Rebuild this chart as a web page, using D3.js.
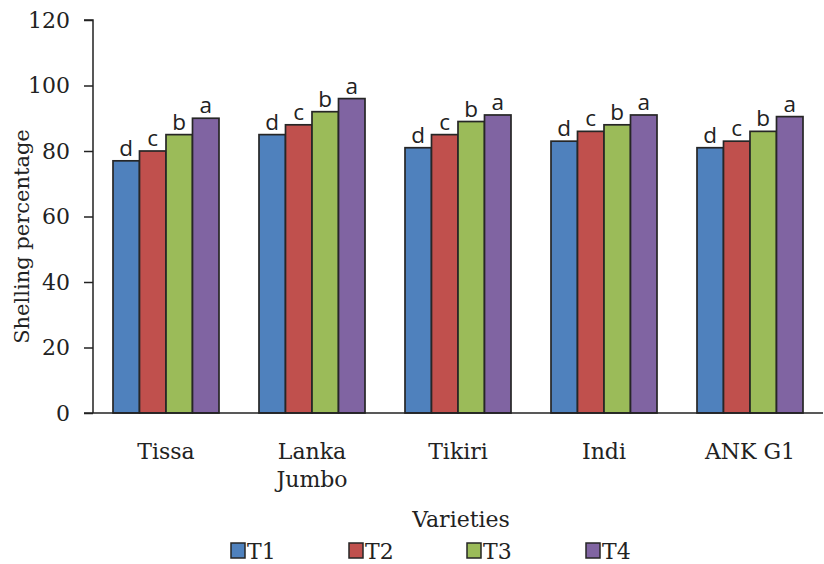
<!DOCTYPE html>
<html><head><meta charset="utf-8">
<script src="https://cdn.jsdelivr.net/npm/d3@7"></script>
<style>body{margin:0;background:#fff}</style>
</head><body>
<svg id="c" width="824" height="564"></svg>
<script>
const categories = [["Tissa"], ["Lanka", "Jumbo"], ["Tikiri"], ["Indi"], ["ANK G1"]];
const series = ["T1", "T2", "T3", "T4"];
const T1 = [77, 85, 81, 83, 81];
const T2 = [80, 88, 85, 86, 83];
const T3 = [85, 92, 89, 88, 86];
const T4 = [90, 96, 91, 91, 90.5];
const letters = ["d", "c", "b", "a"];
const yTicks = [0, 20, 40, 60, 80, 100, 120];
const colors = ["#4F81BD", "#C0504D", "#9BBB59", "#8064A2"];
const values = [T1, T2, T3, T4];

const svg = d3.select("#c");
const L = 93, R = 823, T = 20, B = 413;
const serif = "'DejaVu Serif', 'Liberation Serif', serif";
const sans = "'Open Sans', 'Liberation Sans', sans-serif";

const x0 = d3.scaleBand().domain(d3.range(categories.length)).range([L, R]).paddingInner(40/146).paddingOuter(20/146);
const x1 = d3.scaleBand().domain(series).range([0, x0.bandwidth()]);
const y = d3.scaleLinear().domain([0, 120]).range([B, T]);

// bars
categories.forEach((c, i) => {
  series.forEach((s, j) => {
    const v = values[j][i];
    svg.append("rect")
      .attr("x", x0(i) + x1(s)).attr("y", y(v))
      .attr("width", x1.bandwidth()).attr("height", B - y(v))
      .attr("fill", colors[j]).attr("stroke", "#262626").attr("stroke-width", 1.7);
    svg.append("text")
      .attr("x", x0(i) + x1(s) + x1.bandwidth()/2).attr("y", y(v) - 5)
      .attr("text-anchor", "middle").attr("font-family", sans).attr("font-size", 22.5)
      .attr("fill", "#222").text(letters[j]);
  });
});

// y axis
const yAxis = d3.axisLeft(y).tickValues(yTicks).tickSize(9).tickPadding(14);
const ga = svg.append("g").attr("transform", `translate(${L},0)`).call(yAxis);
ga.select(".domain").attr("stroke", "#222").attr("stroke-width", 1.5).attr("d", `M-9,${T}H0V${B}`);
ga.selectAll(".tick line").attr("stroke", "#222").attr("stroke-width", 1.5);
ga.selectAll(".tick text").attr("font-family", serif).attr("font-size", 22).attr("fill", "#222");

// x axis baseline
svg.append("line").attr("x1", L - 9).attr("x2", R).attr("y1", B).attr("y2", B)
  .attr("stroke", "#222").attr("stroke-width", 1.5);

// x labels
categories.forEach((c, i) => {
  const t = svg.append("text").attr("text-anchor", "middle").attr("font-family", serif)
    .attr("font-size", 22).attr("fill", "#222");
  c.forEach((line, k) => {
    t.append("tspan").attr("x", x0(i) + x0.bandwidth()/2).attr("y", 459 + k*28).text(line);
  });
});

// axis titles
svg.append("text").attr("transform", `translate(29,${(T+B)/2 + 20}) rotate(-90)`)
  .attr("text-anchor", "middle").attr("font-family", serif).attr("font-size", 21)
  .attr("fill", "#222").text("Shelling percentage");
svg.append("text").attr("x", 461).attr("y", 527).attr("text-anchor", "middle")
  .attr("font-family", serif).attr("font-size", 22).attr("fill", "#222").text("Varieties");

// legend
const lx = [231, 349, 467, 586];
series.forEach((s, j) => {
  svg.append("rect").attr("x", lx[j]).attr("y", 543).attr("width", 14).attr("height", 15)
    .attr("fill", colors[j]).attr("stroke", "#262626").attr("stroke-width", 1.5);
  svg.append("text").attr("x", lx[j] + 16).attr("y", 559).attr("font-family", serif)
    .attr("font-size", 22).attr("fill", "#222").text(s);
});
</script>
</body></html>
